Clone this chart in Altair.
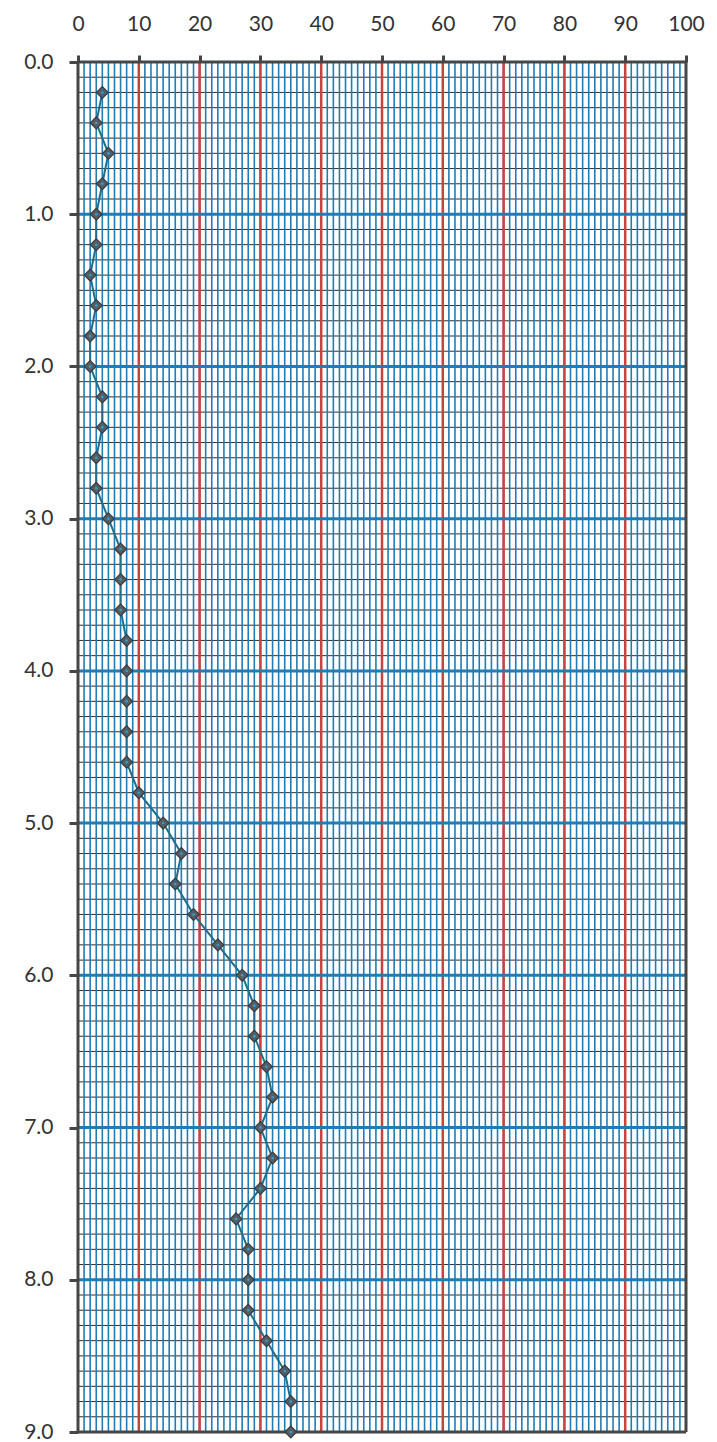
import altair as alt
import pandas as pd

# depth (y) and reading (x) for each plotted point
depth = [0.2, 0.4, 0.6, 0.8, 1.0, 1.2, 1.4, 1.6, 1.8, 2.0,
         2.2, 2.4, 2.6, 2.8, 3.0, 3.2, 3.4, 3.6, 3.8, 4.0,
         4.2, 4.4, 4.6, 4.8, 5.0, 5.2, 5.4, 5.6, 5.8, 6.0,
         6.2, 6.4, 6.6, 6.8, 7.0, 7.2, 7.4, 7.6, 7.8, 8.0,
         8.2, 8.4, 8.6, 8.8, 9.0]
value = [4, 3, 5, 4, 3, 3, 2, 3, 2, 2,
         4, 4, 3, 3, 5, 7, 7, 7, 8, 8,
         8, 8, 8, 10, 14, 17, 16, 19, 23, 27,
         29, 29, 31, 32, 30, 32, 30, 26, 28, 28,
         28, 31, 34, 35, 35]

x_ticks = [0, 10, 20, 30, 40, 50, 60, 70, 80, 90, 100]
y_ticks = [0, 1, 2, 3, 4, 5, 6, 7, 8, 9]

# graph-paper rulings
minor_x = list(range(1, 100))
major_x = list(range(10, 100, 10))
minor_y = [i / 10 for i in range(1, 90)]
major_y = list(range(1, 9))
frame_x = [0, 100]
frame_y = [0, 9]

BLUE = "#1f7cb6"
RED = "#c9423e"
FRAME = "#464646"

xs = alt.Scale(domain=[0, 100], nice=False, zero=False)
ys = alt.Scale(domain=[0, 9], nice=False, zero=False, reverse=True)

x_axis = alt.Axis(orient="top", values=x_ticks, title=None, grid=False,
                  domain=False, tickSize=7, tickWidth=3, tickColor=FRAME,
                  labelFontSize=21, labelColor="#333333", labelFont="Lato",
                  labelFontWeight="normal", labelFlush=False, labelPadding=21)
y_axis = alt.Axis(values=y_ticks, format=".1f", title=None, grid=False,
                  domain=False, tickSize=9, tickWidth=3, tickColor=FRAME,
                  labelFontSize=21, labelColor="#333333", labelFont="Lato",
                  labelFontWeight="normal", labelFlush=False, labelPadding=16)

df = pd.DataFrame({"depth": depth, "value": value})

h_thin = alt.Chart(pd.DataFrame({"y": minor_y})).mark_rule(
    color="#2e2e2e", strokeWidth=1
).encode(y=alt.Y("y:Q", scale=ys, axis=y_axis))

v_blue = alt.Chart(pd.DataFrame({"x": minor_x})).mark_rule(
    color=BLUE, strokeWidth=1.6
).encode(x=alt.X("x:Q", scale=xs, axis=x_axis))

v_red = alt.Chart(pd.DataFrame({"x": major_x})).mark_rule(
    color=RED, strokeWidth=2.5
).encode(x=alt.X("x:Q", scale=xs, axis=x_axis))

h_blue = alt.Chart(pd.DataFrame({"y": major_y})).mark_rule(
    color=BLUE, strokeWidth=3
).encode(y=alt.Y("y:Q", scale=ys, axis=y_axis))

frame_v = alt.Chart(pd.DataFrame({"x": frame_x})).mark_rule(
    color=FRAME, strokeWidth=3
).encode(x=alt.X("x:Q", scale=xs, axis=x_axis))

frame_h = alt.Chart(pd.DataFrame({"y": frame_y})).mark_rule(
    color=FRAME, strokeWidth=3
).encode(y=alt.Y("y:Q", scale=ys, axis=y_axis))

base = alt.Chart(df).encode(
    x=alt.X("value:Q", scale=xs, axis=x_axis),
    y=alt.Y("depth:Q", scale=ys, axis=y_axis),
    order=alt.Order("depth:Q"),
)

line = base.mark_line(color="#1d6f8e", strokeWidth=2)
pts = base.mark_point(shape="diamond", filled=True, fill="#545e66",
                      stroke="#3a3a3a", strokeWidth=1.2, size=140, opacity=1)
dots = base.mark_circle(color="#2aa6dc", size=6, opacity=1)

chart = alt.layer(h_thin, v_blue, v_red, h_blue, frame_v, frame_h,
                  line, pts, dots).properties(
    width=608, height=1370,
    autosize=alt.AutoSizeParams(type="none"),
    padding={"left": 70, "top": 54, "right": 22, "bottom": 10},
).configure_view(strokeWidth=0).configure(background="white")

chart.save("out.html", embed_options={"renderer": "svg", "actions": False})
